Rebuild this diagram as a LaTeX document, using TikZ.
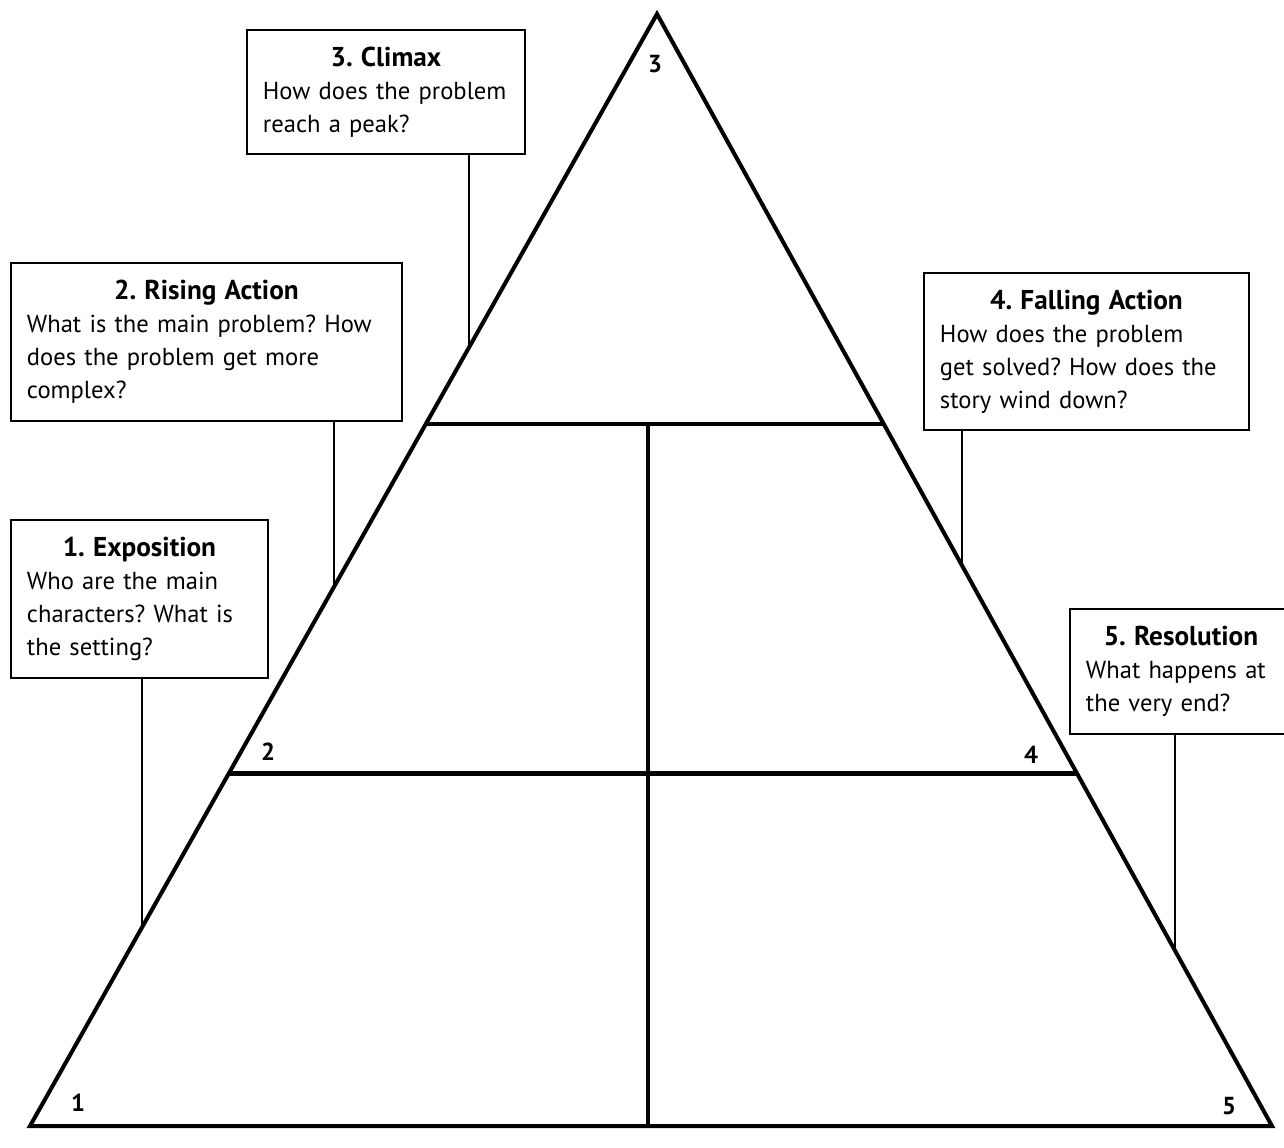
\documentclass[tikz,border=0pt]{standalone}
\usepackage{fontspec}
\setmainfont{PT Sans}
\usetikzlibrary{calc}
\frenchspacing
\hyphenpenalty=10000

\newcommand{\boxhead}[1]{\makebox[\linewidth]{\bfseries\fontsize{15.5}{18.8}\selectfont #1}\\}

\begin{document}
\begin{tikzpicture}[x=0.02cm, y=-0.02cm,
    stage/.style={draw, line width=1.1pt, anchor=north west, align=left, inner xsep=9pt, font=\fontsize{14}{18.8}\selectfont},
    edge line/.style={line width=2.3pt, line join=miter},
    leader/.style={line width=1.1pt},
    corner/.style={font=\bfseries\fontsize{14}{16}\selectfont}]
    \useasboundingbox (0,0) rectangle (1284,1147);
    \coordinate (apex) at (657,14);
    \coordinate (left) at (30,1126);
    \coordinate (right) at (1272,1126);
    \coordinate (midBase) at (648,1126);
    \coordinate (upperL) at ($(apex)!0.369!(left)$);
    \coordinate (upperR) at ($(apex)!0.369!(right)$);
    \coordinate (lowerL) at ($(apex)!0.683!(left)$);
    \coordinate (lowerR) at ($(apex)!0.683!(right)$);
    \draw[edge line] (apex) -- (left) -- (right) -- cycle;
    \draw[edge line] (upperL) -- (upperR);
    \draw[edge line] (lowerL) -- (lowerR);
    \draw[edge line] (upperL -| midBase) -- (midBase);

    \node[stage, minimum width=5.56cm, text width=4.92cm, minimum height=2.48cm] (climax) at (246,29)
        {\boxhead{3. Climax}How does the problem\\reach a peak?};
    \node[stage, minimum width=7.82cm, text width=7.18cm, minimum height=3.16cm] (rising) at (10,262)
        {\boxhead{2. Rising Action}What is the main problem? How\\does the problem get more\\complex?};
    \node[stage, minimum width=5.14cm, text width=4.50cm, minimum height=3.16cm] (expo) at (10,519)
        {\boxhead{1. Exposition}Who are the main\\characters? What is\\the setting?};
    \node[stage, minimum width=6.50cm, text width=5.86cm, minimum height=3.14cm] (falling) at (923,272)
        {\boxhead{4. Falling Action}How does the problem\\get solved? How does the\\story wind down?};
    \node[stage, minimum width=4.44cm, text width=3.80cm, minimum height=2.50cm] (resol) at (1069,608)
        {\boxhead{5. Resolution}What happens at\\the very end?};

    \coordinate (climaxFoot) at ($(apex)!0.300!(left)$);
    \coordinate (risingFoot) at ($(apex)!0.515!(left)$);
    \coordinate (expoFoot) at ($(apex)!0.821!(left)$);
    \coordinate (fallingFoot) at ($(apex)!0.496!(right)$);
    \coordinate (resolFoot) at ($(apex)!0.842!(right)$);
    \draw[leader] (climax.south -| climaxFoot) -- (climaxFoot);
    \draw[leader] (rising.south -| risingFoot) -- (risingFoot);
    \draw[leader] (expo.south -| expoFoot) -- (expoFoot);
    \draw[leader] (falling.south -| fallingFoot) -- (fallingFoot);
    \draw[leader] (resol.south -| resolFoot) -- (resolFoot);

    \node[corner] (num3) at (655,64) {3};
    \node[corner] (num2) at (268,752) {2};
    \node[corner] (num4) at (1031,755) {4};
    \node[corner] (num1) at (78,1103) {1};
    \node[corner] (num5) at (1229,1106) {5};
\end{tikzpicture}
\end{document}
